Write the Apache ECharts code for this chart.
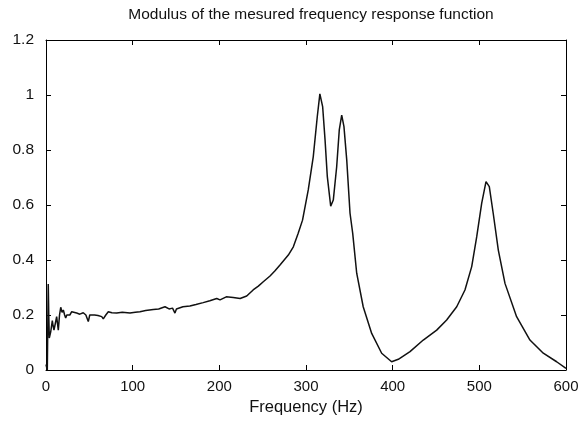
<!DOCTYPE html>
<html><head><meta charset="utf-8">
<script src="https://cdn.jsdelivr.net/npm/echarts@6/dist/echarts.min.js"></script>
<style>html,body{margin:0;padding:0;background:#fff}#c{width:584px;height:424px}</style>
</head><body><div id="c"></div>
<script>
var freq = [0, 1.5, 2.6, 3.2, 3.8, 5.5, 7.3, 8.2, 9.2, 10.8, 12.3, 13.2, 14.2, 15.6, 17, 18.5, 20, 21.5, 22.7, 24, 25.7, 27.5, 29.7, 32, 35.4, 39, 43, 46, 48.8, 50.5, 52.7, 56, 60, 64.3, 66.1, 69, 71.9, 76, 81.6, 88, 96.9, 103, 108.4, 115, 123.8, 130, 137.3, 142, 146, 148.8, 150.5, 152.6, 158, 166, 173, 181.4, 189, 197, 200.8, 208, 216, 224, 231.6, 239, 245, 250.7, 258.5, 264, 270, 279.6, 285.4, 291, 296, 302.6, 308.4, 313, 316, 319.2, 322, 324.6, 328.5, 331.5, 335.4, 338.4, 341.2, 343.8, 347, 350.8, 353.9, 358.5, 366, 375.8, 387.3, 398.8, 406.5, 420, 435.3, 450.8, 462.3, 473.9, 483.4, 491.2, 497, 502.7, 507.7, 511.5, 516, 521.9, 529.6, 543, 558.4, 573.8, 589.2, 600];
var modulus = [0.02, 0.0, 0.313, 0.2, 0.116, 0.14, 0.18, 0.16, 0.145, 0.17, 0.194, 0.17, 0.145, 0.2, 0.228, 0.21, 0.218, 0.2, 0.189, 0.2, 0.207, 0.2, 0.212, 0.205, 0.207, 0.203, 0.208, 0.2, 0.176, 0.2, 0.207, 0.2, 0.198, 0.194, 0.186, 0.2, 0.212, 0.208, 0.207, 0.21, 0.207, 0.21, 0.212, 0.216, 0.22, 0.222, 0.23, 0.222, 0.225, 0.207, 0.222, 0.228, 0.23, 0.233, 0.238, 0.245, 0.252, 0.26, 0.255, 0.266, 0.264, 0.26, 0.269, 0.291, 0.305, 0.321, 0.342, 0.36, 0.382, 0.418, 0.448, 0.497, 0.545, 0.655, 0.776, 0.921, 1.004, 0.958, 0.836, 0.703, 0.596, 0.618, 0.739, 0.873, 0.927, 0.885, 0.764, 0.57, 0.497, 0.352, 0.23, 0.133, 0.061, 0.03, 0.039, 0.067, 0.109, 0.145, 0.182, 0.23, 0.291, 0.376, 0.485, 0.606, 0.685, 0.667, 0.57, 0.436, 0.315, 0.194, 0.109, 0.061, 0.03, 0.006];
var xTicks = [0, 100, 200, 300, 400, 500, 600];
var yTicks = [0, 0.2, 0.4, 0.6, 0.8, 1, 1.2];

var pts = freq.map(function(f, i){ return [f, modulus[i]]; });
var font = 'Liberation Sans, Arial, sans-serif';
var chart = echarts.init(document.getElementById('c'));
var axisCommon = {
  axisLine: {show: true, onZero: false, lineStyle: {color: '#000', width: 1}},
  axisTick: {show: true, inside: true, length: 5, lineStyle: {color: '#000'}},
  splitLine: {show: false}
};
chart.setOption({
  animation: false,
  title: {text: 'Modulus of the mesured frequency response function', left: 306, top: 2,
    textAlign: 'center',
    textStyle: {fontFamily: font, fontSize: 15.5, fontWeight: 'normal', color: '#111'}},
  grid: {left: 46, right: 18, top: 40, bottom: 54},
  xAxis: [
    Object.assign({type: 'value', min: 0, max: 600, interval: 100, position: 'bottom',
      name: 'Frequency (Hz)', nameLocation: 'middle', nameGap: 28,
      nameTextStyle: {fontFamily: font, fontSize: 16.5, color: '#111'},
      axisLabel: {fontFamily: font, fontSize: 15, color: '#111', margin: 9,
        formatter: function(v){ return xTicks.indexOf(v) >= 0 ? String(v) : ''; }}}, axisCommon),
    Object.assign({type: 'value', min: 0, max: 600, interval: 100, position: 'top', axisLabel: {show: false}}, axisCommon)
  ],
  yAxis: [
    Object.assign({type: 'value', min: 0, max: 1.2, interval: 0.2, position: 'left',
      axisLabel: {fontFamily: font, fontSize: 15.5, color: '#111', margin: 12,
        formatter: function(v){ var r = Math.round(v*10)/10; return yTicks.indexOf(r) >= 0 ? String(r) : ''; }}}, axisCommon),
    Object.assign({type: 'value', min: 0, max: 1.2, interval: 0.2, position: 'right', axisLabel: {show: false}}, axisCommon)
  ],
  series: [{type: 'line', data: pts, showSymbol: false, symbol: 'none',
    lineStyle: {color: '#111', width: 1.5}}]
});
</script></body></html>
